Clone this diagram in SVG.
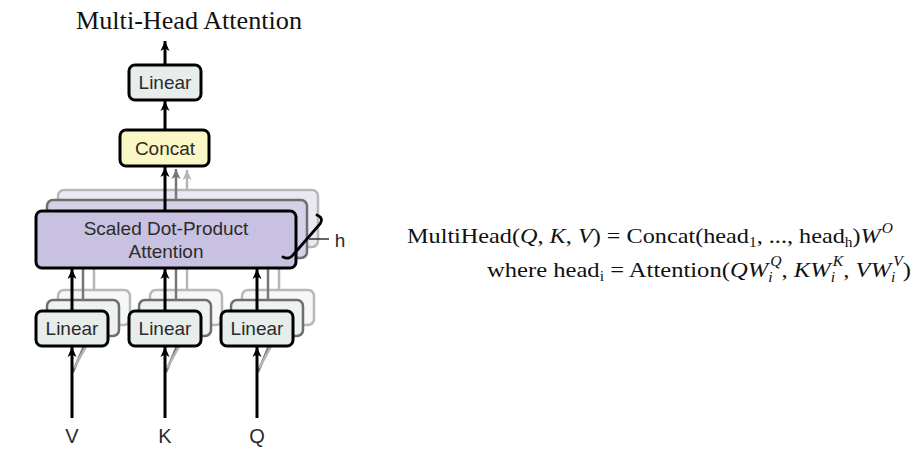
<svg xmlns="http://www.w3.org/2000/svg" width="917" height="456" viewBox="0 0 917 456">
  <defs>
    <marker id="ah" markerUnits="userSpaceOnUse" markerWidth="10" markerHeight="12" refX="10" refY="5" orient="auto">
      <path d="M0,0.5 L10,5 L0,9.5 L2.5,5 Z" fill="#000"/>
    </marker>
    <marker id="ahg" markerUnits="userSpaceOnUse" markerWidth="10" markerHeight="12" refX="10" refY="5" orient="auto">
      <path d="M0,0.5 L10,5 L0,9.5 L2.5,5 Z" fill="#777"/>
    </marker>
    <marker id="ahl" markerUnits="userSpaceOnUse" markerWidth="10" markerHeight="12" refX="10" refY="5" orient="auto">
      <path d="M0,0.5 L10,5 L0,9.5 L2.5,5 Z" fill="#b5b5b5"/>
    </marker>
    <filter id="soft" x="-10%" y="-10%" width="120%" height="120%">
      <feGaussianBlur stdDeviation="0.7"/>
    </filter>
  </defs>
  <style>
    .box { stroke: #000; stroke-width: 3; }
    .lin { fill: #e7edeb; }
    .cat { fill: #fbf6c6; }
    .att { fill: #c9c1e1; }
    .sh2 { stroke: #6e6e6e; stroke-width: 2.5; }
    .sh3 { stroke: #b8b8b8; stroke-width: 2.5; }
    .lbl { font-family: "Liberation Sans", Arial, sans-serif; font-size: 19px; fill: #2b2b2b; text-anchor: middle; }
    .io { font-family: "Liberation Sans", Arial, sans-serif; font-size: 20px; fill: #2b2b2b; text-anchor: middle; }
    .ser { font-family: "Liberation Serif", "Times New Roman", serif; fill: #111; }
    .it { font-style: italic; }
    .k { stroke: #000; stroke-width: 3; fill: none; }
    .g { stroke: #777; stroke-width: 2.5; fill: none; }
    .l { stroke: #b5b5b5; stroke-width: 2.5; fill: none; }
  </style>
  <rect width="917" height="456" fill="#fff"/>

  <text class="ser" x="189" y="29" font-size="25" text-anchor="middle" textLength="226" lengthAdjust="spacingAndGlyphs">Multi-Head Attention</text>

  <!-- stacked shadow copies (heads) -->
  <g id="shadows" filter="url(#soft)">
    <rect class="sh3" x="58" y="190" width="260" height="57" rx="6" fill="#ebe8f3"/>
    <rect class="sh2" x="47" y="200" width="260" height="58" rx="6" fill="#d6d0e8"/>
    <rect class="sh3" x="58" y="290" width="72" height="35" rx="6" fill="#f6f8f7"/>
    <rect class="sh3" x="150" y="290" width="72" height="35" rx="6" fill="#f6f8f7"/>
    <rect class="sh3" x="242" y="290" width="72" height="35" rx="6" fill="#f6f8f7"/>
    <rect class="sh2" x="47" y="300" width="72" height="36" rx="6" fill="#eef2f1"/>
    <rect class="sh2" x="139" y="300" width="72" height="36" rx="6" fill="#eef2f1"/>
    <rect class="sh2" x="231" y="300" width="72" height="36" rx="6" fill="#eef2f1"/>
  </g>

  <g id="connectors">
    <!-- shadow head connectors -->
    <g filter="url(#soft)">
      <line class="l" x1="187" y1="190" x2="187" y2="170" marker-end="url(#ahl)"/>
      <line class="g" x1="176" y1="200" x2="176" y2="169" marker-end="url(#ahg)"/>
      <line class="l" x1="94" y1="290" x2="94" y2="247"/>
      <line class="g" x1="83" y1="300" x2="83" y2="258"/>
      <line class="l" x1="187" y1="290" x2="187" y2="247"/>
      <line class="g" x1="176" y1="300" x2="176" y2="258"/>
      <line class="l" x1="279" y1="290" x2="279" y2="247"/>
      <line class="g" x1="268" y1="300" x2="268" y2="258"/>
      <line class="g" x1="73" y1="372" x2="84" y2="346"/>
      <line class="l" x1="74" y1="368" x2="92" y2="336"/>
      <line class="g" x1="166" y1="372" x2="177" y2="346"/>
      <line class="l" x1="167" y1="368" x2="185" y2="336"/>
      <line class="g" x1="258" y1="372" x2="269" y2="346"/>
      <line class="l" x1="259" y1="368" x2="277" y2="336"/>
    </g>
    <!-- main connectors -->
    <line class="k" x1="165" y1="65" x2="165" y2="41" marker-end="url(#ah)"/>
    <line class="k" x1="165" y1="130" x2="165" y2="101" marker-end="url(#ah)"/>
    <line class="k" x1="165" y1="211" x2="165" y2="167" marker-end="url(#ah)"/>
    <line class="k" x1="72" y1="310" x2="72" y2="269" marker-end="url(#ah)"/>
    <line class="k" x1="165" y1="310" x2="165" y2="269" marker-end="url(#ah)"/>
    <line class="k" x1="257" y1="310" x2="257" y2="269" marker-end="url(#ah)"/>
    <line class="k" x1="72" y1="418" x2="72" y2="347" marker-end="url(#ah)"/>
    <line class="k" x1="165" y1="418" x2="165" y2="347" marker-end="url(#ah)"/>
    <line class="k" x1="257" y1="418" x2="257" y2="347" marker-end="url(#ah)"/>
  </g>

  <g id="linear-out">
    <rect class="box lin" x="129" y="65" width="72" height="35" rx="6"/>
    <text class="lbl" x="165" y="89">Linear</text>
  </g>
  <g id="concat">
    <rect class="box cat" x="120" y="130" width="89" height="36" rx="6"/>
    <text class="lbl" x="165" y="155">Concat</text>
  </g>
  <g id="attention">
    <rect class="box att" x="36" y="211" width="260" height="57" rx="6"/>
    <text class="lbl" x="166" y="235">Scaled Dot-Product</text>
    <text class="lbl" x="166" y="258">Attention</text>
  </g>
  <g id="heads-brace">
    <path d="M317,215 Q324,218 320,224 L293,255 Q289,260 283,257" fill="none" stroke="#000" stroke-width="2.8" stroke-linecap="round"/>
    <line x1="309" y1="239" x2="329" y2="239" stroke="#333" stroke-width="1.5"/>
    <text class="lbl" x="340" y="247">h</text>
  </g>
  <g id="linear-v">
    <rect class="box lin" x="36" y="311" width="72" height="35" rx="6"/>
    <text class="lbl" x="72" y="335">Linear</text>
  </g>
  <g id="linear-k">
    <rect class="box lin" x="129" y="311" width="72" height="35" rx="6"/>
    <text class="lbl" x="165" y="335">Linear</text>
  </g>
  <g id="linear-q">
    <rect class="box lin" x="221" y="311" width="72" height="35" rx="6"/>
    <text class="lbl" x="257" y="335">Linear</text>
  </g>
  <g id="inputs">
    <text class="io" x="72" y="443">V</text>
    <text class="io" x="165" y="443">K</text>
    <text class="io" x="257" y="443">Q</text>
  </g>

  <g id="formula" class="ser" font-size="22">
    <text x="407" y="243" textLength="486" lengthAdjust="spacingAndGlyphs">MultiHead(<tspan class="it">Q</tspan>, <tspan class="it">K</tspan>, <tspan class="it">V</tspan>) = Concat(head<tspan font-size="14" dy="4">1</tspan><tspan dy="-4">, ..., head</tspan><tspan font-size="14" dy="4">h</tspan><tspan dy="-4">)</tspan><tspan class="it">W</tspan><tspan class="it" font-size="14" dx="1" dy="-10">O</tspan></text>
    <text x="487" y="277" textLength="424" lengthAdjust="spacingAndGlyphs">where head<tspan font-size="14" dy="4">i</tspan><tspan dy="-4"> = Attention(</tspan><tspan class="it">QW</tspan><tspan class="it" font-size="14" dy="5">i</tspan><tspan class="it" font-size="14" dx="-2" dy="-16">Q</tspan><tspan dy="11">, </tspan><tspan class="it">KW</tspan><tspan class="it" font-size="14" dy="5">i</tspan><tspan class="it" font-size="14" dx="-2" dy="-16">K</tspan><tspan dy="11">, </tspan><tspan class="it">VW</tspan><tspan class="it" font-size="14" dy="5">i</tspan><tspan class="it" font-size="14" dx="-2" dy="-16">V</tspan><tspan dy="11">)</tspan></text>
  </g>
</svg>
